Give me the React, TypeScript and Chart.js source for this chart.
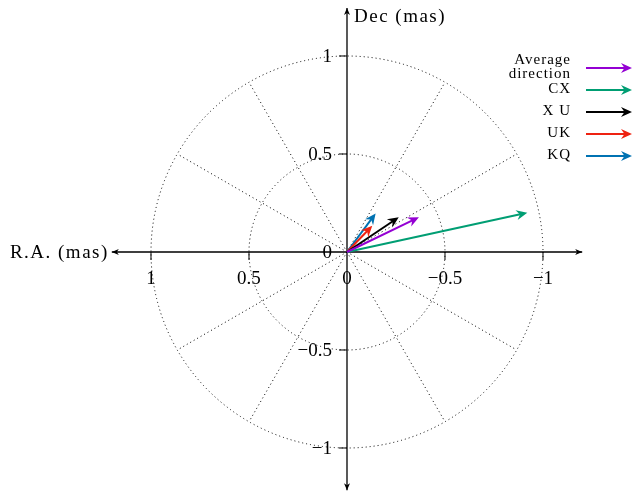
import React, { useEffect, useRef } from "react";
import { Chart, registerables } from "chart.js";

Chart.register(...registerables);

const seriesNames = ["Average direction", "CX", "XU", "UK", "KQ"];
const legendLines = [["Average", "direction"], ["CX"], ["X U"], ["UK"], ["KQ"]];
const seriesColors = ["#9400D3", "#009E73", "#000000", "#EE2211", "#0072B2"];
// arrow tips (R.A., Dec) in mas, arrows start at origin
const raValues = [-0.367, -0.92, -0.264, -0.129, -0.146];
const decValues = [0.177, 0.2, 0.177, 0.134, 0.197];
const tickValues = [1, 0.5, 0, -0.5, -1];
const circleRadii = [0.5, 1];
const spokeAngles = [30, 60, 120, 150, 210, 240, 300, 330];

const FONT = '"Liberation Serif", "DejaVu Serif", serif';

function fmt(v: number) {
  return v < 0 ? "\u2212" + String(-v) : String(v);
}

function arrowHead(ctx: CanvasRenderingContext2D, x0: number, y0: number, x1: number, y1: number, color: string) {
  const ang = Math.atan2(y1 - y0, x1 - x0);
  const L = 11, W = 5, inset = 3.5;
  ctx.save();
  ctx.translate(x1, y1);
  ctx.rotate(ang);
  ctx.fillStyle = color;
  ctx.beginPath();
  ctx.moveTo(0, 0);
  ctx.lineTo(-L, -W);
  ctx.lineTo(-L + inset, 0);
  ctx.lineTo(-L, W);
  ctx.closePath();
  ctx.fill();
  ctx.restore();
}

const polarPlugin = {
  id: "polarGrid",
  beforeDatasetsDraw(chart: any) {
    const ctx: CanvasRenderingContext2D = chart.ctx;
    const xs = chart.scales.x, ys = chart.scales.y;
    const cx = xs.getPixelForValue(0), cy = ys.getPixelForValue(0);
    ctx.save();
    ctx.strokeStyle = "#000";
    ctx.lineWidth = 1;
    ctx.setLineDash([1, 3]);
    circleRadii.forEach((r) => {
      const rx = Math.abs(xs.getPixelForValue(r) - cx);
      const ry = Math.abs(ys.getPixelForValue(r) - cy);
      ctx.beginPath();
      ctx.ellipse(cx, cy, rx, ry, 0, 0, Math.PI * 2);
      ctx.stroke();
    });
    spokeAngles.forEach((a) => {
      const rad = (a * Math.PI) / 180;
      const px = xs.getPixelForValue(-Math.cos(rad));
      const py = ys.getPixelForValue(Math.sin(rad));
      ctx.beginPath();
      ctx.moveTo(cx, cy);
      ctx.lineTo(px, py);
      ctx.stroke();
    });
    ctx.setLineDash([]);
    // axes
    ctx.lineWidth = 1.3;
    const xl = xs.getPixelForValue(1.2), xr = xs.getPixelForValue(-1.2);
    const yt = ys.getPixelForValue(1.245), yb = ys.getPixelForValue(-1.215);
    ctx.beginPath();
    ctx.moveTo(xl, cy); ctx.lineTo(xr, cy);
    ctx.moveTo(cx, yt); ctx.lineTo(cx, yb);
    ctx.stroke();
    const tri = (x: number, y: number, dx: number, dy: number) => {
      const L = 7, W = 3;
      const nx = -dy, ny = dx;
      ctx.beginPath();
      ctx.moveTo(x, y);
      ctx.lineTo(x - dx * L + nx * W, y - dy * L + ny * W);
      ctx.lineTo(x - dx * (L - 2), y - dy * (L - 2));
      ctx.lineTo(x - dx * L - nx * W, y - dy * L - ny * W);
      ctx.closePath();
      ctx.fillStyle = "#000";
      ctx.fill();
    };
    tri(xl, cy, -1, 0);
    tri(xr, cy, 1, 0);
    tri(cx, yt, 0, -1);
    tri(cx, yb, 0, 1);
    // ticks
    ctx.lineWidth = 1;
    tickValues.forEach((v) => {
      if (v === 0) return;
      const px = xs.getPixelForValue(v);
      ctx.beginPath(); ctx.moveTo(px, cy); ctx.lineTo(px, cy + 8); ctx.stroke();
      const py = ys.getPixelForValue(v);
      ctx.beginPath(); ctx.moveTo(cx - 8, py); ctx.lineTo(cx, py); ctx.stroke();
    });
    // tick labels
    ctx.fillStyle = "#000";
    ctx.font = `19px ${FONT}`;
    ctx.textBaseline = "middle";
    ctx.textAlign = "center";
    tickValues.forEach((v) => {
      ctx.fillText(fmt(v), xs.getPixelForValue(v), cy + 27);
    });
    ctx.textAlign = "right";
    tickValues.forEach((v) => {
      ctx.fillText(fmt(v), cx - 15, ys.getPixelForValue(v) + 1);
    });
    // axis titles
    (ctx as any).letterSpacing = "1.5px";
    ctx.textAlign = "right";
    ctx.fillText("R.A. (mas)", xl - 3, cy + 1);
    ctx.textAlign = "left";
    ctx.fillText("Dec (mas)", cx + 7, yt + 9);
    ctx.restore();
  },
  afterDatasetsDraw(chart: any) {
    const ctx: CanvasRenderingContext2D = chart.ctx;
    chart.data.datasets.forEach((ds: any, i: number) => {
      const meta = chart.getDatasetMeta(i);
      const p0 = meta.data[0], p1 = meta.data[meta.data.length - 1];
      arrowHead(ctx, p0.x, p0.y, p1.x, p1.y, ds.borderColor);
    });
    // legend
    ctx.save();
    ctx.font = `15px ${FONT}`;
    (ctx as any).letterSpacing = "1px";
    ctx.fillStyle = "#000";
    ctx.textAlign = "right";
    ctx.textBaseline = "middle";
    const rows = [68, 90, 112, 134, 156];
    legendLines.forEach((lines, i) => {
      const y = rows[i];
      if (lines.length === 2) {
        ctx.fillText(lines[0], 571, y - 8);
        ctx.fillText(lines[1], 571, y + 6);
      } else {
        ctx.fillText(lines[0], 571, y - 1);
      }
      ctx.strokeStyle = seriesColors[i];
      ctx.lineWidth = 2;
      ctx.beginPath();
      ctx.moveTo(586, y);
      ctx.lineTo(627, y);
      ctx.stroke();
      arrowHead(ctx, 586, y, 632, y, seriesColors[i]);
    });
    ctx.restore();
  },
};

export default function App() {
  const ref = useRef<HTMLCanvasElement>(null);
  useEffect(() => {
    if (!ref.current) return;
    const datasets = seriesNames.map((name, i) => {
      const dx = raValues[i], dy = decValues[i];
      const len = Math.hypot(dx, dy);
      const shrink = (len - 0.025) / len;
      return {
        label: name,
        data: [
          { x: 0, y: 0 },
          { x: dx * shrink, y: dy * shrink },
          { x: dx, y: dy },
        ],
        showLine: true,
        borderColor: seriesColors[i],
        backgroundColor: seriesColors[i],
        borderWidth: 2,
        pointRadius: 0,
        pointHoverRadius: 0,
        segment: {
          borderColor: (c: any) => (c.p1DataIndex === 2 ? "rgba(0,0,0,0)" : seriesColors[i]),
        },
      };
    });
    const chart = new Chart(ref.current, {
      type: "scatter",
      data: { datasets: datasets as any },
      options: {
        responsive: false,
        animation: false,
        layout: { padding: 0 },
        plugins: { legend: { display: false }, tooltip: { enabled: false } },
        scales: {
          x: { type: "linear", reverse: true, min: -1.4694, max: 1.7704, display: false },
          y: { type: "linear", min: -1.2347, max: 1.2857, display: false },
        },
      },
      plugins: [polarPlugin as any],
    });
    return () => chart.destroy();
  }, []);
  return (
    <div style={{ position: "absolute", left: 0, top: 0, width: 635, height: 494 }}>
      <canvas ref={ref} width={635} height={494} style={{ width: 635, height: 494, display: "block" }} />
    </div>
  );
}
